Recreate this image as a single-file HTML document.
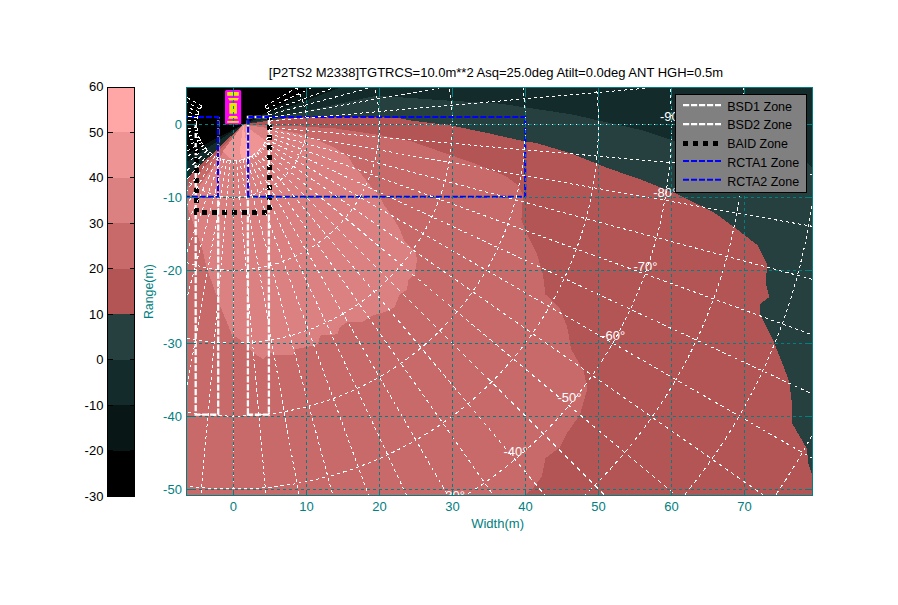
<!DOCTYPE html>
<html><head><meta charset="utf-8"><title>P2TS2 coverage</title>
<style>
html,body{margin:0;padding:0;background:#fff;}
body{width:898px;height:605px;overflow:hidden;}
svg{display:block;}
text{font-family:"Liberation Sans",sans-serif;font-size:13px;}
.t{fill:#008080;}
.w{fill:#fff;}
</style></head><body>
<svg width="898" height="605" viewBox="0 0 898 605">
<rect width="898" height="605" fill="#fff"/>

<g shape-rendering="crispEdges">
<rect x="107.5" y="87.00" width="27.0" height="45.97" fill="#ffa6a6"/>
<rect x="107.5" y="132.47" width="27.0" height="45.97" fill="#ee9494"/>
<rect x="107.5" y="177.93" width="27.0" height="45.97" fill="#dc8181"/>
<rect x="107.5" y="223.40" width="27.0" height="45.97" fill="#c96a6a"/>
<rect x="107.5" y="268.87" width="27.0" height="45.97" fill="#b35555"/>
<rect x="107.5" y="314.33" width="27.0" height="45.97" fill="#264040"/>
<rect x="107.5" y="359.80" width="27.0" height="45.97" fill="#132b2b"/>
<rect x="107.5" y="405.27" width="27.0" height="45.97" fill="#081616"/>
<rect x="107.5" y="450.73" width="27.0" height="45.97" fill="#000000"/>
<rect x="107.5" y="87.5" width="27.0" height="409.0" fill="none" stroke="#000" stroke-width="1"/>
<path d="M107.5 87.5h5M134.5 87.5h-5" stroke="#000" stroke-width="1"/>
<path d="M107.5 132.5h5M134.5 132.5h-5" stroke="#000" stroke-width="1"/>
<path d="M107.5 177.5h5M134.5 177.5h-5" stroke="#000" stroke-width="1"/>
<path d="M107.5 223.5h5M134.5 223.5h-5" stroke="#000" stroke-width="1"/>
<path d="M107.5 268.5h5M134.5 268.5h-5" stroke="#000" stroke-width="1"/>
<path d="M107.5 314.5h5M134.5 314.5h-5" stroke="#000" stroke-width="1"/>
<path d="M107.5 359.5h5M134.5 359.5h-5" stroke="#000" stroke-width="1"/>
<path d="M107.5 405.5h5M134.5 405.5h-5" stroke="#000" stroke-width="1"/>
<path d="M107.5 450.5h5M134.5 450.5h-5" stroke="#000" stroke-width="1"/>
<path d="M107.5 496.5h5M134.5 496.5h-5" stroke="#000" stroke-width="1"/>
</g>
<text x="103.4" y="91.4" text-anchor="end" fill="#000">60</text>
<text x="103.4" y="136.9" text-anchor="end" fill="#000">50</text>
<text x="103.4" y="182.3" text-anchor="end" fill="#000">40</text>
<text x="103.4" y="227.8" text-anchor="end" fill="#000">30</text>
<text x="103.4" y="273.3" text-anchor="end" fill="#000">20</text>
<text x="103.4" y="318.7" text-anchor="end" fill="#000">10</text>
<text x="103.4" y="364.2" text-anchor="end" fill="#000">0</text>
<text x="103.4" y="409.7" text-anchor="end" fill="#000">-10</text>
<text x="103.4" y="455.1" text-anchor="end" fill="#000">-20</text>
<text x="103.4" y="500.6" text-anchor="end" fill="#000">-30</text>
<defs><clipPath id="cp"><rect x="186.5" y="87.5" width="626.0" height="408.0"/></clipPath></defs>
<g clip-path="url(#cp)">
<g shape-rendering="crispEdges">
<rect x="186.5" y="87.5" width="626.0" height="408.0" fill="#264040"/>
<polygon points="243.2,124.4 376.3,95.7 450.0,100.7 500.0,103.6 571.3,114.3 642.5,130.3 674.6,141.0 740.0,152.0 806.5,162.4 815.0,170.0 815.0,80.0 300.0,80.0" fill="#132b2b"/>
<polygon points="243.2,124.4 360.0,80.0 300.0,80.0" fill="#081616"/>
<polygon points="243.2,124.4 316.0,86.0 316.0,80.0 180.0,80.0 180.0,157.4" fill="#000"/>
<polygon points="243.2,124.4 180.0,157.4 180.0,166.3" fill="#081616"/>
<polygon points="243.2,124.4 180.0,166.3 180.0,184.7" fill="#132b2b"/>
<polygon points="243.2,124.4 256.0,122.6 268.0,120.8 285.0,118.4 300.0,117.3 385.0,117.0 400.0,118.4 411.4,120.6 452.3,125.7 490.0,133.6 524.5,141.4 535.6,142.8 571.3,153.5 606.9,167.8 642.5,180.2 678.2,194.5 713.8,212.3 738.0,230.0 758.0,245.6 767.0,263.5 766.0,283.6 769.2,297.0 760.3,303.7 760.3,314.8 767.0,328.0 773.7,341.6 782.6,364.0 789.3,381.8 791.5,399.6 791.5,422.0 800.4,437.6 807.0,448.8 808.0,462.0 811.6,473.3 815.0,480.0 815.0,500.0 180.0,500.0 180.0,184.7" fill="#b35555"/>
<polygon points="243.2,124.4 270.0,125.5 300.0,126.4 335.0,128.4 380.0,135.1 411.4,141.4 442.8,152.4 474.3,163.4 505.7,176.0 518.2,185.4 523.0,194.8 521.4,220.0 527.7,235.7 537.1,254.5 543.4,276.5 543.6,280.0 545.5,294.5 560.0,309.0 567.3,327.3 571.0,349.0 583.6,371.0 587.3,389.0 580.0,414.5 567.3,432.7 560.0,447.3 545.5,458.2 541.8,476.4 532.7,489.0 525.5,494.5 520.0,500.0 180.0,500.0 180.0,194.2" fill="#c96a6a"/>
<polygon points="243.2,124.4 280.0,130.0 300.0,133.8 318.5,140.6 334.7,147.8 348.6,157.0 353.2,165.1 362.5,175.5 371.7,187.1 379.8,196.4 384.5,205.6 392.6,217.2 399.5,228.8 404.1,240.3 413.4,249.6 416.0,254.0 417.0,260.0 414.5,274.8 408.3,279.8 407.0,289.7 399.6,294.6 394.7,307.0 384.7,312.0 372.3,315.7 362.4,322.0 347.5,322.0 340.0,326.9 337.6,334.3 320.2,335.6 317.8,344.2 307.8,346.7 295.4,349.2 293.0,355.4 275.6,355.4 270.6,352.9 263.2,359.1 253.3,352.9 245.8,344.2 235.9,336.8 232.4,336.2 228.0,325.0 221.0,308.0 214.0,288.4 207.0,268.7 201.5,246.2 194.4,226.5 187.4,207.0 180.0,213.1" fill="#dc8181"/>
<polygon points="243.2,124.4 223.0,151.0 228.0,157.0 236.0,160.5 247.0,160.0 257.0,155.0 264.0,148.0 267.5,142.0" fill="#ee9494"/>
<polygon points="243.2,124.4 240.0,150.0 241.0,158.0 245.5,159.0 247.5,150.0" fill="#ffa6a6"/>
</g>
<g fill="none" stroke="#fff" stroke-width="2.3" stroke-dasharray="6.3 1.7">
<path d="M195.7 117V414.6H218.2V117"/>
<path d="M247.9 414.6V117H268.9V414.6Z"/>
</g>
<path d="M196.5 118V212.3H269.7V118" fill="none" stroke="#000" stroke-width="4.8" stroke-dasharray="4.8 5.2" shape-rendering="crispEdges"/>
<g fill="none" stroke="#0000ff" stroke-width="2.1" stroke-dasharray="6 2">
<path d="M150 117H218V196.8H150"/>
<path d="M248.1 196.8V117H525.2V196.8Z"/>
</g>
<g fill="none" stroke="#fff" stroke-width="1" shape-rendering="crispEdges">
<path d="M265.0 106.1A36.5 36.5 0 0 1 268.7 114.9" stroke-width="1.00" stroke-dasharray="3.25 3.25" stroke-dashoffset="0.00"/>
<path d="M268.7 114.9A36.5 36.5 0 0 1 269.9 124.3" stroke-width="1.00" stroke-dasharray="3.03 3.03" stroke-dashoffset="3.50"/>
<path d="M269.9 124.3A36.5 36.5 0 0 1 268.7 133.7" stroke-width="1.00" stroke-dasharray="3.03 3.03" stroke-dashoffset="0.96"/>
<path d="M268.7 133.7A36.5 36.5 0 0 1 265.0 142.5" stroke-width="1.00" stroke-dasharray="3.25 3.25" stroke-dashoffset="2.69"/>
<path d="M265.0 142.5A36.5 36.5 0 0 1 259.2 150.1" stroke-width="1.00" stroke-dasharray="3.78 3.78" stroke-dashoffset="0.41"/>
<path d="M259.2 150.1A36.5 36.5 0 0 1 251.7 155.9" stroke-width="1.00" stroke-dasharray="3.78 3.78" stroke-dashoffset="2.40"/>
<path d="M251.7 155.9A36.5 36.5 0 0 1 242.8 159.5" stroke-width="1.00" stroke-dasharray="3.25 3.25" stroke-dashoffset="5.38"/>
<path d="M242.8 159.5A36.5 36.5 0 0 1 233.4 160.8" stroke-width="1.00" stroke-dasharray="3.03 3.03" stroke-dashoffset="0.32"/>
<path d="M233.4 160.8A36.5 36.5 0 0 1 224.0 159.5" stroke-width="1.00" stroke-dasharray="3.03 3.03" stroke-dashoffset="3.82"/>
<path d="M224.0 159.5A36.5 36.5 0 0 1 215.2 155.9" stroke-width="1.00" stroke-dasharray="3.25 3.25" stroke-dashoffset="1.57"/>
<path d="M215.2 155.9A36.5 36.5 0 0 1 207.6 150.1" stroke-width="1.00" stroke-dasharray="3.78 3.78" stroke-dashoffset="4.80"/>
<path d="M207.6 150.1A36.5 36.5 0 0 1 201.8 142.5" stroke-width="1.00" stroke-dasharray="3.78 3.78" stroke-dashoffset="6.80"/>
<path d="M201.8 142.5A36.5 36.5 0 0 1 198.1 133.7" stroke-width="1.00" stroke-dasharray="3.25 3.25" stroke-dashoffset="4.26"/>
<path d="M198.1 133.7A36.5 36.5 0 0 1 196.9 124.3" stroke-width="1.00" stroke-dasharray="3.03 3.03" stroke-dashoffset="3.19"/>
<path d="M196.9 124.3A36.5 36.5 0 0 1 198.1 114.9" stroke-width="1.00" stroke-dasharray="3.03 3.03" stroke-dashoffset="0.64"/>
<path d="M198.1 114.9A36.5 36.5 0 0 1 201.8 106.1" stroke-width="1.00" stroke-dasharray="3.25 3.25" stroke-dashoffset="0.46"/>
<path d="M296.6 87.8A73.0 72.9 0 0 1 303.9 105.4" stroke-width="1.00" stroke-dasharray="3.25 3.25" stroke-dashoffset="0.00"/>
<path d="M303.9 105.4A73.0 72.9 0 0 1 306.4 124.3" stroke-width="1.00" stroke-dasharray="3.03 3.03" stroke-dashoffset="0.96"/>
<path d="M306.4 124.3A73.0 72.9 0 0 1 303.9 143.2" stroke-width="1.00" stroke-dasharray="3.03 3.03" stroke-dashoffset="1.91"/>
<path d="M303.9 143.2A73.0 72.9 0 0 1 296.6 160.8" stroke-width="1.00" stroke-dasharray="3.25 3.25" stroke-dashoffset="5.38"/>
<path d="M296.6 160.8A73.0 72.9 0 0 1 285.0 175.9" stroke-width="1.00" stroke-dasharray="3.78 3.78" stroke-dashoffset="0.82"/>
<path d="M285.0 175.9A73.0 72.9 0 0 1 269.9 187.5" stroke-width="1.00" stroke-dasharray="3.78 3.78" stroke-dashoffset="4.80"/>
<path d="M269.9 187.5A73.0 72.9 0 0 1 252.3 194.8" stroke-width="1.00" stroke-dasharray="3.25 3.25" stroke-dashoffset="4.26"/>
<path d="M252.3 194.8A73.0 72.9 0 0 1 233.4 197.2" stroke-width="1.00" stroke-dasharray="3.03 3.03" stroke-dashoffset="0.64"/>
<path d="M233.4 197.2A73.0 72.9 0 0 1 214.5 194.8" stroke-width="1.00" stroke-dasharray="3.03 3.03" stroke-dashoffset="1.60"/>
<path d="M214.5 194.8A73.0 72.9 0 0 1 196.9 187.5" stroke-width="1.00" stroke-dasharray="3.25 3.25" stroke-dashoffset="3.15"/>
<path d="M196.9 187.5A73.0 72.9 0 0 1 181.8 175.9" stroke-width="1.00" stroke-dasharray="3.78 3.78" stroke-dashoffset="2.04"/>
<path d="M359.8 51.4A146.0 145.9 0 0 1 374.4 86.5" stroke-width="1.00" stroke-dasharray="3.25 3.25" stroke-dashoffset="0.00"/>
<path d="M374.4 86.5A146.0 145.9 0 0 1 379.4 124.3" stroke-width="1.00" stroke-dasharray="3.03 3.03" stroke-dashoffset="1.91"/>
<path d="M379.4 124.3A146.0 145.9 0 0 1 374.4 162.1" stroke-width="1.00" stroke-dasharray="3.03 3.03" stroke-dashoffset="3.82"/>
<path d="M374.4 162.1A146.0 145.9 0 0 1 359.8 197.2" stroke-width="1.00" stroke-dasharray="3.25 3.25" stroke-dashoffset="4.26"/>
<path d="M359.8 197.2A146.0 145.9 0 0 1 336.6 227.5" stroke-width="1.00" stroke-dasharray="3.78 3.78" stroke-dashoffset="1.63"/>
<path d="M336.6 227.5A146.0 145.9 0 0 1 306.4 250.6" stroke-width="1.00" stroke-dasharray="3.78 3.78" stroke-dashoffset="2.04"/>
<path d="M306.4 250.6A146.0 145.9 0 0 1 271.2 265.2" stroke-width="1.00" stroke-dasharray="3.25 3.25" stroke-dashoffset="2.03"/>
<path d="M271.2 265.2A146.0 145.9 0 0 1 233.4 270.2" stroke-width="1.00" stroke-dasharray="3.03 3.03" stroke-dashoffset="1.28"/>
<path d="M233.4 270.2A146.0 145.9 0 0 1 195.6 265.2" stroke-width="1.00" stroke-dasharray="3.03 3.03" stroke-dashoffset="3.19"/>
<path d="M195.6 265.2A146.0 145.9 0 0 1 160.4 250.6" stroke-width="1.00" stroke-dasharray="3.25 3.25" stroke-dashoffset="6.30"/>
<path d="M444.9 67.7A219.0 218.8 0 0 1 452.4 124.3" stroke-width="1.00" stroke-dasharray="3.03 3.03" stroke-dashoffset="2.87"/>
<path d="M452.4 124.3A219.0 218.8 0 0 1 444.9 180.9" stroke-width="1.00" stroke-dasharray="3.03 3.03" stroke-dashoffset="5.74"/>
<path d="M444.9 180.9A219.0 218.8 0 0 1 423.1 233.7" stroke-width="1.00" stroke-dasharray="3.25 3.25" stroke-dashoffset="3.15"/>
<path d="M423.1 233.7A219.0 218.8 0 0 1 388.3 279.0" stroke-width="1.00" stroke-dasharray="3.78 3.78" stroke-dashoffset="2.45"/>
<path d="M388.3 279.0A219.0 218.8 0 0 1 342.9 313.8" stroke-width="1.00" stroke-dasharray="3.78 3.78" stroke-dashoffset="6.85"/>
<path d="M342.9 313.8A219.0 218.8 0 0 1 290.1 335.7" stroke-width="1.00" stroke-dasharray="3.25 3.25" stroke-dashoffset="6.30"/>
<path d="M290.1 335.7A219.0 218.8 0 0 1 233.4 343.1" stroke-width="1.00" stroke-dasharray="3.03 3.03" stroke-dashoffset="1.92"/>
<path d="M233.4 343.1A219.0 218.8 0 0 1 176.7 335.7" stroke-width="1.00" stroke-dasharray="3.03 3.03" stroke-dashoffset="4.79"/>
<path d="M515.5 48.8A292.0 291.8 0 0 1 525.4 124.3" stroke-width="1.00" stroke-dasharray="3.03 3.03" stroke-dashoffset="3.82"/>
<path d="M525.4 124.3A292.0 291.8 0 0 1 515.5 199.8" stroke-width="1.00" stroke-dasharray="3.03 3.03" stroke-dashoffset="1.60"/>
<path d="M515.5 199.8A292.0 291.8 0 0 1 486.3 270.2" stroke-width="1.00" stroke-dasharray="3.25 3.25" stroke-dashoffset="2.03"/>
<path d="M486.3 270.2A292.0 291.8 0 0 1 439.9 330.6" stroke-width="1.00" stroke-dasharray="3.78 3.78" stroke-dashoffset="3.27"/>
<path d="M439.9 330.6A292.0 291.8 0 0 1 379.4 377.0" stroke-width="1.00" stroke-dasharray="3.78 3.78" stroke-dashoffset="4.09"/>
<path d="M379.4 377.0A292.0 291.8 0 0 1 309.0 406.1" stroke-width="1.00" stroke-dasharray="3.25 3.25" stroke-dashoffset="4.07"/>
<path d="M309.0 406.1A292.0 291.8 0 0 1 233.4 416.1" stroke-width="1.00" stroke-dasharray="3.03 3.03" stroke-dashoffset="2.56"/>
<path d="M233.4 416.1A292.0 291.8 0 0 1 157.8 406.1" stroke-width="1.00" stroke-dasharray="3.03 3.03" stroke-dashoffset="0.33"/>
<path d="M586.0 29.9A365.0 364.7 0 0 1 598.4 124.3" stroke-width="1.00" stroke-dasharray="3.03 3.03" stroke-dashoffset="4.78"/>
<path d="M598.4 124.3A365.0 364.7 0 0 1 586.0 218.7" stroke-width="1.00" stroke-dasharray="3.03 3.03" stroke-dashoffset="3.51"/>
<path d="M586.0 218.7A365.0 364.7 0 0 1 549.5 306.6" stroke-width="1.00" stroke-dasharray="3.25 3.25" stroke-dashoffset="0.92"/>
<path d="M549.5 306.6A365.0 364.7 0 0 1 491.5 382.2" stroke-width="1.00" stroke-dasharray="3.78 3.78" stroke-dashoffset="4.09"/>
<path d="M491.5 382.2A365.0 364.7 0 0 1 415.9 440.1" stroke-width="1.00" stroke-dasharray="3.78 3.78" stroke-dashoffset="1.33"/>
<path d="M415.9 440.1A365.0 364.7 0 0 1 327.9 476.6" stroke-width="1.00" stroke-dasharray="3.25 3.25" stroke-dashoffset="1.84"/>
<path d="M327.9 476.6A365.0 364.7 0 0 1 233.4 489.0" stroke-width="1.00" stroke-dasharray="3.03 3.03" stroke-dashoffset="3.20"/>
<path d="M233.4 489.0A365.0 364.7 0 0 1 138.9 476.6" stroke-width="1.00" stroke-dasharray="3.03 3.03" stroke-dashoffset="1.93"/>
<path d="M656.5 11.0A438.0 437.6 0 0 1 671.4 124.3" stroke-width="1.00" stroke-dasharray="3.03 3.03" stroke-dashoffset="5.74"/>
<path d="M671.4 124.3A438.0 437.6 0 0 1 656.5 237.6" stroke-width="1.00" stroke-dasharray="3.03 3.03" stroke-dashoffset="5.42"/>
<path d="M656.5 237.6A438.0 437.6 0 0 1 612.7 343.1" stroke-width="1.00" stroke-dasharray="3.25 3.25" stroke-dashoffset="6.30"/>
<path d="M612.7 343.1A438.0 437.6 0 0 1 543.1 433.8" stroke-width="1.00" stroke-dasharray="3.78 3.78" stroke-dashoffset="4.90"/>
<path d="M543.1 433.8A438.0 437.6 0 0 1 452.4 503.3" stroke-width="1.00" stroke-dasharray="3.78 3.78" stroke-dashoffset="6.13"/>
<path d="M727.0 -7.8A511.0 510.6 0 0 1 744.4 124.3" stroke-width="1.00" stroke-dasharray="3.03 3.03" stroke-dashoffset="0.64"/>
<path d="M744.4 124.3A511.0 510.6 0 0 1 727.0 256.4" stroke-width="1.00" stroke-dasharray="3.03 3.03" stroke-dashoffset="1.28"/>
<path d="M727.0 256.4A511.0 510.6 0 0 1 675.9 379.6" stroke-width="1.00" stroke-dasharray="3.25 3.25" stroke-dashoffset="5.18"/>
<path d="M675.9 379.6A511.0 510.6 0 0 1 594.7 485.3" stroke-width="1.00" stroke-dasharray="3.78 3.78" stroke-dashoffset="5.72"/>
<path d="M594.7 485.3A511.0 510.6 0 0 1 488.9 566.5" stroke-width="1.00" stroke-dasharray="3.78 3.78" stroke-dashoffset="3.37"/>
<path d="M797.5 -26.7A584.0 583.5 0 0 1 817.4 124.3" stroke-width="1.00" stroke-dasharray="3.03 3.03" stroke-dashoffset="1.60"/>
<path d="M817.4 124.3A584.0 583.5 0 0 1 797.5 275.3" stroke-width="1.00" stroke-dasharray="3.03 3.03" stroke-dashoffset="3.19"/>
<path d="M797.5 275.3A584.0 583.5 0 0 1 739.2 416.1" stroke-width="1.00" stroke-dasharray="3.25 3.25" stroke-dashoffset="4.07"/>
<path d="M739.2 416.1A584.0 583.5 0 0 1 646.4 536.9" stroke-width="1.00" stroke-dasharray="3.78 3.78" stroke-dashoffset="6.54"/>
<path d="M868.0 294.2A657.0 656.5 0 0 1 802.4 452.5" stroke-width="1.00" stroke-dasharray="3.25 3.25" stroke-dashoffset="2.95"/>
<path d="M802.4 452.5A657.0 656.5 0 0 1 698.0 588.5" stroke-width="1.00" stroke-dasharray="3.78 3.78" stroke-dashoffset="7.35"/>
<path d="M265.0 106.1L865.6 -240.4" stroke-width="1.00" stroke-dasharray="3.46 3.46"/>
<path d="M266.5 108.9L895.0 -184.0" stroke-width="1.00" stroke-dasharray="3.31 3.31"/>
<path d="M267.7 111.8L919.4 -125.2" stroke-width="1.00" stroke-dasharray="3.19 3.19"/>
<path d="M268.7 114.9L938.5 -64.5" stroke-width="1.00" stroke-dasharray="3.11 3.11"/>
<path d="M269.3 118.0L952.3 -2.4" stroke-width="1.00" stroke-dasharray="3.05 3.05"/>
<path d="M269.8 121.1L960.6 60.7" stroke-width="1.00" stroke-dasharray="3.01 3.01"/>
<path d="M269.9 124.3L963.4 124.3" stroke-width="1.00" stroke-dasharray="3.00 3.00"/>
<path d="M269.8 127.5L960.6 187.9" stroke-width="1.00" stroke-dasharray="3.01 3.01"/>
<path d="M269.3 130.6L952.3 251.0" stroke-width="1.00" stroke-dasharray="3.05 3.05"/>
<path d="M268.7 133.7L938.5 313.1" stroke-width="1.00" stroke-dasharray="3.11 3.11"/>
<path d="M267.7 136.8L919.4 373.8" stroke-width="1.00" stroke-dasharray="3.19 3.19"/>
<path d="M266.5 139.7L895.0 432.6" stroke-width="1.00" stroke-dasharray="3.31 3.31"/>
<path d="M265.0 142.5L865.6 489.0" stroke-width="1.00" stroke-dasharray="3.46 3.46"/>
<path d="M263.3 145.2L831.4 542.7" stroke-width="1.00" stroke-dasharray="3.66 3.66"/>
<path d="M261.4 147.7L792.6 593.1" stroke-width="1.00" stroke-dasharray="3.92 3.92"/>
<path d="M259.2 150.1L749.6 640.1" stroke-width="1.00" stroke-dasharray="4.24 4.24"/>
<path d="M256.9 152.2L702.6 683.1" stroke-width="1.00" stroke-dasharray="3.92 3.92"/>
<path d="M254.3 154.2L652.1 721.8" stroke-width="1.00" stroke-dasharray="3.66 3.66"/>
<path d="M251.7 155.9L598.4 756.0" stroke-width="1.00" stroke-dasharray="3.46 3.46"/>
<path d="M248.8 157.4L541.9 785.4" stroke-width="1.00" stroke-dasharray="3.31 3.31"/>
<path d="M245.9 158.6L483.1 809.7" stroke-width="1.00" stroke-dasharray="3.19 3.19"/>
<path d="M242.8 159.5L422.3 828.8" stroke-width="1.00" stroke-dasharray="3.11 3.11"/>
<path d="M239.7 160.2L360.2 842.6" stroke-width="1.00" stroke-dasharray="3.05 3.05"/>
<path d="M236.6 160.6L297.0 850.9" stroke-width="1.00" stroke-dasharray="3.01 3.01"/>
<path d="M233.4 160.8L233.4 853.7" stroke-width="1.00" stroke-dasharray="3.00 3.00"/>
<path d="M230.2 160.6L169.8 850.9" stroke-width="1.00" stroke-dasharray="3.01 3.01"/>
<path d="M227.1 160.2L106.6 842.6" stroke-width="1.00" stroke-dasharray="3.05 3.05"/>
<path d="M224.0 159.5L44.5 828.8" stroke-width="1.00" stroke-dasharray="3.11 3.11"/>
<path d="M220.9 158.6L-16.3 809.7" stroke-width="1.00" stroke-dasharray="3.19 3.19"/>
<path d="M218.0 157.4L-75.1 785.4" stroke-width="1.00" stroke-dasharray="3.31 3.31"/>
<path d="M215.2 155.9L-131.6 756.0" stroke-width="1.00" stroke-dasharray="3.46 3.46"/>
<path d="M212.5 154.2L-185.3 721.8" stroke-width="1.00" stroke-dasharray="3.66 3.66"/>
<path d="M209.9 152.2L-235.8 683.1" stroke-width="1.00" stroke-dasharray="3.92 3.92"/>
<path d="M207.6 150.1L-282.8 640.1" stroke-width="1.00" stroke-dasharray="4.24 4.24"/>
<path d="M205.4 147.7L-325.8 593.1" stroke-width="1.00" stroke-dasharray="3.92 3.92"/>
<path d="M203.5 145.2L-364.6 542.7" stroke-width="1.00" stroke-dasharray="3.66 3.66"/>
<path d="M201.8 142.5L-398.8 489.0" stroke-width="1.00" stroke-dasharray="3.46 3.46"/>
<path d="M200.3 139.7L-428.2 432.6" stroke-width="1.00" stroke-dasharray="3.31 3.31"/>
<path d="M199.1 136.8L-452.6 373.8" stroke-width="1.00" stroke-dasharray="3.19 3.19"/>
<path d="M198.1 133.7L-471.7 313.1" stroke-width="1.00" stroke-dasharray="3.11 3.11"/>
<path d="M197.5 130.6L-485.5 251.0" stroke-width="1.00" stroke-dasharray="3.05 3.05"/>
<path d="M197.0 127.5L-493.8 187.9" stroke-width="1.00" stroke-dasharray="3.01 3.01"/>
<path d="M196.9 124.3L-496.6 124.3" stroke-width="1.00" stroke-dasharray="3.00 3.00"/>
<path d="M197.0 121.1L-493.8 60.7" stroke-width="1.00" stroke-dasharray="3.01 3.01"/>
<path d="M197.5 118.0L-485.5 -2.4" stroke-width="1.00" stroke-dasharray="3.05 3.05"/>
<path d="M198.1 114.9L-471.7 -64.5" stroke-width="1.00" stroke-dasharray="3.11 3.11"/>
<path d="M199.1 111.8L-452.6 -125.2" stroke-width="1.00" stroke-dasharray="3.19 3.19"/>
<path d="M200.3 108.9L-428.2 -184.0" stroke-width="1.00" stroke-dasharray="3.31 3.31"/>
<path d="M201.8 106.1L-398.8 -240.4" stroke-width="1.00" stroke-dasharray="3.46 3.46"/>
</g>
<text class="w" x="671.9" y="121.0" text-anchor="middle">-90°</text>
<text class="w" x="665.2" y="197.0" text-anchor="middle">-80°</text>
<text class="w" x="645.5" y="270.7" text-anchor="middle">-70°</text>
<text class="w" x="613.2" y="339.8" text-anchor="middle">-60°</text>
<text class="w" x="569.4" y="402.3" text-anchor="middle">-50°</text>
<text class="w" x="515.4" y="456.3" text-anchor="middle">-40°</text>
<text class="w" x="452.9" y="500.0" text-anchor="middle">-30°</text>
<rect x="225" y="90" width="16.2" height="34.6" rx="1.5" fill="#ff00ff"/>
<g fill="#e6e600">
<rect x="227.2" y="92" width="11.6" height="3.8"/>
<polygon points="228,97.9 238.8,97.9 237.7,100.6 229.3,100.6"/>
<rect x="229.3" y="103" width="7.6" height="10.7"/>
<polygon points="229.3,116 237,116 238,118.8 228.2,118.8"/>
<rect x="227.2" y="120.9" width="11.6" height="2"/>
</g>
<g stroke="#008080" stroke-width="1" stroke-dasharray="3 3" shape-rendering="crispEdges">
<path d="M233.5 87.5V495.5"/>
<path d="M306.5 87.5V495.5"/>
<path d="M379.5 87.5V495.5"/>
<path d="M452.5 87.5V495.5"/>
<path d="M525.5 87.5V495.5"/>
<path d="M598.5 87.5V495.5"/>
<path d="M671.5 87.5V495.5"/>
<path d="M744.5 87.5V495.5"/>
<path d="M186.5 124.5H812.5"/>
<path d="M186.5 197.5H812.5"/>
<path d="M186.5 270.5H812.5"/>
<path d="M186.5 343.5H812.5"/>
<path d="M186.5 416.5H812.5"/>
<path d="M186.5 489.5H812.5"/>
</g>
</g>
<g stroke="#008080" stroke-width="1" fill="none" shape-rendering="crispEdges">
<rect x="186.5" y="87.5" width="626.0" height="408.0"/>
<path d="M233.5 495.5v-6M233.5 87.5v6"/>
<path d="M306.5 495.5v-6M306.5 87.5v6"/>
<path d="M379.5 495.5v-6M379.5 87.5v6"/>
<path d="M452.5 495.5v-6M452.5 87.5v6"/>
<path d="M525.5 495.5v-6M525.5 87.5v6"/>
<path d="M598.5 495.5v-6M598.5 87.5v6"/>
<path d="M671.5 495.5v-6M671.5 87.5v6"/>
<path d="M744.5 495.5v-6M744.5 87.5v6"/>
<path d="M186.5 124.5h6M812.5 124.5h-6"/>
<path d="M186.5 197.5h6M812.5 197.5h-6"/>
<path d="M186.5 270.5h6M812.5 270.5h-6"/>
<path d="M186.5 343.5h6M812.5 343.5h-6"/>
<path d="M186.5 416.5h6M812.5 416.5h-6"/>
<path d="M186.5 489.5h6M812.5 489.5h-6"/>
</g>
<text class="t" x="233.4" y="511.4" text-anchor="middle">0</text>
<text class="t" x="306.4" y="511.4" text-anchor="middle">10</text>
<text class="t" x="379.4" y="511.4" text-anchor="middle">20</text>
<text class="t" x="452.4" y="511.4" text-anchor="middle">30</text>
<text class="t" x="525.4" y="511.4" text-anchor="middle">40</text>
<text class="t" x="598.4" y="511.4" text-anchor="middle">50</text>
<text class="t" x="671.4" y="511.4" text-anchor="middle">60</text>
<text class="t" x="744.4" y="511.4" text-anchor="middle">70</text>
<text class="t" x="181.9" y="128.9" text-anchor="end">0</text>
<text class="t" x="181.9" y="201.8" text-anchor="end">-10</text>
<text class="t" x="181.9" y="274.8" text-anchor="end">-20</text>
<text class="t" x="181.9" y="347.7" text-anchor="end">-30</text>
<text class="t" x="181.9" y="420.7" text-anchor="end">-40</text>
<text class="t" x="181.9" y="493.6" text-anchor="end">-50</text>
<text class="t" x="497.6" y="528.4" textLength="52.8" lengthAdjust="spacingAndGlyphs" text-anchor="middle">Width(m)</text>
<text class="t" transform="translate(152.6,291.6) rotate(-90)" text-anchor="middle" textLength="55" lengthAdjust="spacingAndGlyphs">Range(m)</text>
<text x="268.8" y="77.3" fill="#000" id="title">[P2TS2 M2338]TGTRCS=10.0m**2 Asq=25.0deg Atilt=0.0deg ANT HGH=0.5m</text>
<rect x="675.5" y="94.5" width="131" height="97.5" fill="#808080" stroke="#000" stroke-width="1" shape-rendering="crispEdges"/>
<path d="M683 105.2H721" stroke="#fff" stroke-width="2.3" stroke-dasharray="6.2 1.8"/>
<text x="727.2" y="110.5" fill="#000" textLength="64.9" lengthAdjust="spacingAndGlyphs">BSD1 Zone</text>
<path d="M683 124.1H721" stroke="#fff" stroke-width="2.3" stroke-dasharray="6.2 1.8"/>
<text x="727.2" y="129.4" fill="#000" textLength="64.9" lengthAdjust="spacingAndGlyphs">BSD2 Zone</text>
<path d="M682.8 143.2H720.5" stroke="#000" stroke-width="5.2" stroke-dasharray="5 4.95" shape-rendering="crispEdges"/>
<text x="727.2" y="148.2" fill="#000" textLength="60.7" lengthAdjust="spacingAndGlyphs">BAID Zone</text>
<path d="M683 161.0H721" stroke="#0000ff" stroke-width="2" stroke-dasharray="6 2"/>
<text x="727.2" y="166.9" fill="#000" textLength="72.0" lengthAdjust="spacingAndGlyphs">RCTA1 Zone</text>
<path d="M683 179.8H721" stroke="#0000ff" stroke-width="2" stroke-dasharray="6 2"/>
<text x="727.2" y="185.7" fill="#000" textLength="72.0" lengthAdjust="spacingAndGlyphs">RCTA2 Zone</text>
</svg></body></html>
